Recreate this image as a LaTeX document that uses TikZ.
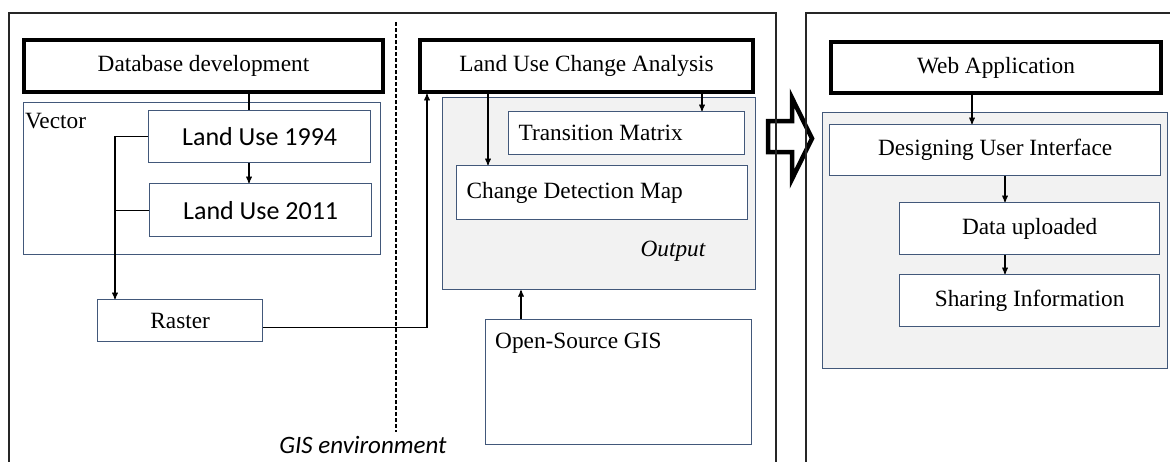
\documentclass[tikz,border=0pt]{standalone}
\usepackage{fontspec}
\setmainfont{Liberation Serif}
\newfontfamily\calfont{Carlito}
\usetikzlibrary{arrows,positioning}

\definecolor{boxblue}{RGB}{66,88,122}
\definecolor{panelgrey}{RGB}{242,242,242}

\newcommand{\dgmfont}{\fontsize{23.3}{27}\selectfont}
\newcommand{\landfont}{\calfont\fontsize{26}{30}\selectfont}

\tikzset{
	frame/.style={draw=black!85, line width=1.6pt},
	headbox/.style={draw=black, line width=4pt, fill=white, anchor=north west, inner sep=0pt, font=\dgmfont},
	subbox/.style={draw=boxblue, line width=1.3pt, fill=white, anchor=north west, inner sep=0pt, font=\dgmfont},
	leftbox/.style={subbox, align=flush left, inner xsep=10pt},
	panel/.style={draw=boxblue, line width=1.3pt, fill=panelgrey, anchor=north west, inner sep=0pt},
	group/.style={draw=boxblue, line width=1.3pt, anchor=north west, inner sep=0pt},
	link/.style={line width=1.3pt}
}

\begin{document}
\begin{tikzpicture}[x=1pt,y=-1pt,>=stealth']
\useasboundingbox (0,0) rectangle (1170,461);
\clip (0,0) rectangle (1170,461);

% hollow arrow between the two panels
\draw[line width=4.5pt, line join=miter] (768,121) -- (792,121) -- (792,98) -- (812,138.5)
	-- (792,179) -- (792,152) -- (768,152) -- cycle;

% outer frames
\draw[frame] (9,13) rectangle (776,480);
\draw[frame] (806,13) rectangle (1190,480);

% GIS environment split
\draw[line width=1.2pt, dash pattern=on 4pt off 2pt] (396,22) -- (396,432);
\node[font=\calfont\itshape\fontsize{25}{30}\selectfont] (gis) at (363,445) {GIS environment};

% database development
\node[headbox, minimum width=359pt, minimum height=52pt] (db) at (22,38) {Database development};
\node[group, minimum width=357pt, minimum height=152pt] (vec) at (23,102) {};
\node[anchor=north west, inner sep=0pt, font=\dgmfont] (veclbl) at ([xshift=2pt,yshift=-11pt]vec.north west) {Vector};
\node[subbox, font=\landfont, minimum width=222pt, minimum height=52pt] (lu94) at (148,110) {Land Use 1994};
\node[subbox, font=\landfont, minimum width=222pt, minimum height=53pt] (lu11) at (149,183) {Land Use 2011};
\node[subbox, minimum width=165pt, minimum height=42pt] (raster) at (97,299) {Raster};

% change analysis
\node[headbox, minimum width=333pt, minimum height=52pt] (luca) at (418,38) {Land Use Change Analysis};
\node[panel, minimum width=313pt, minimum height=192pt] (out) at (442,97) {};
\node[leftbox, text width=216pt, minimum height=43pt] (tm) at (508,111) {Transition Matrix};
\node[leftbox, text width=271pt, minimum height=54pt] (cdm) at (456,165) {Change Detection Map};
\node[anchor=base, font=\dgmfont\itshape] (outlbl) at (673,256) {Output};
\node[subbox, minimum width=266pt, minimum height=125pt] (osg) at (485,319) {};
\node[anchor=north west, inner sep=0pt, font=\dgmfont] (osglbl) at ([xshift=10pt,yshift=-14pt]osg.north west) {Open-Source GIS};

% web application
\node[headbox, minimum width=330pt, minimum height=51pt] (web) at (829,40) {Web Application};
\node[panel, minimum width=345pt, minimum height=256pt] (app) at (822,112) {};
\node[subbox, minimum width=331pt, minimum height=51pt] (dui) at (829,124) {Designing User Interface};
\node[subbox, minimum width=260pt, minimum height=52pt] (upl) at (899,202) {Data uploaded};
\node[subbox, minimum width=260pt, minimum height=52pt] (share) at (899,274) {Sharing Information};

% lanes for the connectors
\coordinate (dbx) at (249,0);
\coordinate (vx) at (115,0);
\coordinate (rx) at (427,0);
\coordinate (cdx) at (488,0);
\coordinate (tmx) at (702,0);
\coordinate (osx) at (521,0);
\coordinate (wx) at (972,0);
\coordinate (ux) at (1005,0);

\draw[link] (db.south -| dbx) -- (lu94.north -| dbx);
\draw[link,->] (lu94.south -| dbx) -- (lu11.north -| dbx);
\draw[link,->] (lu94.west) -- (lu94.west -| vx) -- (raster.north -| vx);
\draw[link] (lu11.west) -- (lu11.west -| vx);
\draw[link,->] ([yshift=-7pt]raster.east) -| (luca.south -| rx);
\draw[link,->] (luca.south -| cdx) -- (cdm.north -| cdx);
\draw[link,->] (luca.south -| tmx) -- (tm.north -| tmx);
\draw[link,->] (osg.north -| osx) -- (out.south -| osx);
\draw[link,->] (web.south -| wx) -- (dui.north -| wx);
\draw[link,->] (dui.south -| ux) -- (upl.north -| ux);
\draw[link,->] (upl.south -| ux) -- (share.north -| ux);
\end{tikzpicture}
\end{document}
